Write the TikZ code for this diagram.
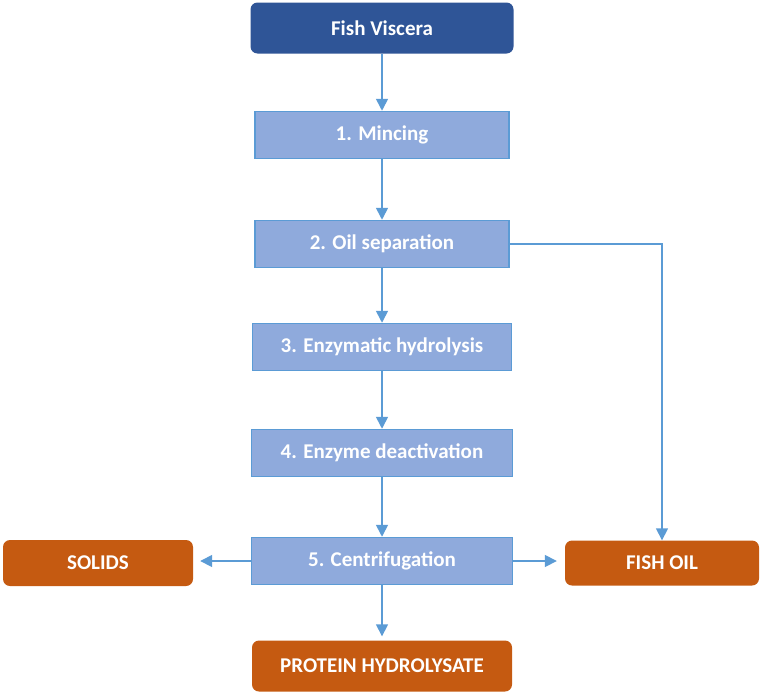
\documentclass[tikz,border=0pt]{standalone}
\usepackage{fontspec}
\setmainfont{Carlito}
\usetikzlibrary{arrows.meta}

\definecolor{linkblue}{HTML}{5B9BD5}
\definecolor{stepfill}{HTML}{8FAADC}
\definecolor{sourceblue}{HTML}{2F5597}
\definecolor{productorange}{HTML}{C55A11}

\tikzset{
	boxtext/.style={text=white, font=\bfseries\fontsize{21}{24}\selectfont, inner sep=0pt},
	stepbox/.style={boxtext, draw=linkblue, line width=1.5pt, fill=stepfill, minimum height=47pt},
	sourcebox/.style={boxtext, fill=sourceblue, rounded corners=7pt, minimum width=263pt, minimum height=51pt},
	productbox/.style={boxtext, fill=productorange, rounded corners=7pt},
	flow/.style={draw=linkblue, line width=1.6pt, -{Triangle[width=12pt,length=12pt]}}
}

\begin{document}
\begin{tikzpicture}[x=1pt, y=-1pt]
	\useasboundingbox (0,0) rectangle (762,696);

	\node[sourcebox] (viscera) at (382,28) {Fish Viscera};
	\node[stepbox, minimum width=254pt] (mincing) at (382,135) {1. Mincing};
	\node[stepbox, minimum width=254pt] (oilsep) at (382,244) {2. Oil separation};
	\node[stepbox, minimum width=259pt] (hydrolysis) at (382,347) {3. Enzymatic hydrolysis};
	\node[stepbox, minimum width=261pt] (deactivation) at (382,453) {4. Enzyme deactivation};
	\node[stepbox, minimum width=261pt] (centrifuge) at (382,561) {5. Centrifugation};

	\node[productbox, minimum width=190pt, minimum height=46pt] (solids) at (98,563) {SOLIDS};
	\node[productbox, minimum width=194pt, minimum height=45pt] (fishoil) at (662,563) {FISH OIL};
	\node[productbox, minimum width=260pt, minimum height=51pt] (protein) at (382,666) {PROTEIN HYDROLYSATE};

	\draw[flow] (viscera) -- (mincing);
	\draw[flow] (mincing) -- (oilsep);
	\draw[flow] (oilsep) -- (hydrolysis);
	\draw[flow] (hydrolysis) -- (deactivation);
	\draw[flow] (deactivation) -- (centrifuge);
	\draw[flow, shorten >=4pt] (centrifuge) -- (protein);
	\draw[flow, shorten >=7pt] (centrifuge.west) -- (centrifuge.west -| solids.east);
	\draw[flow, shorten >=8pt] (centrifuge.east) -- (centrifuge.east -| fishoil.west);
	\draw[flow] (oilsep.east) -| (fishoil.north);
\end{tikzpicture}
\end{document}
